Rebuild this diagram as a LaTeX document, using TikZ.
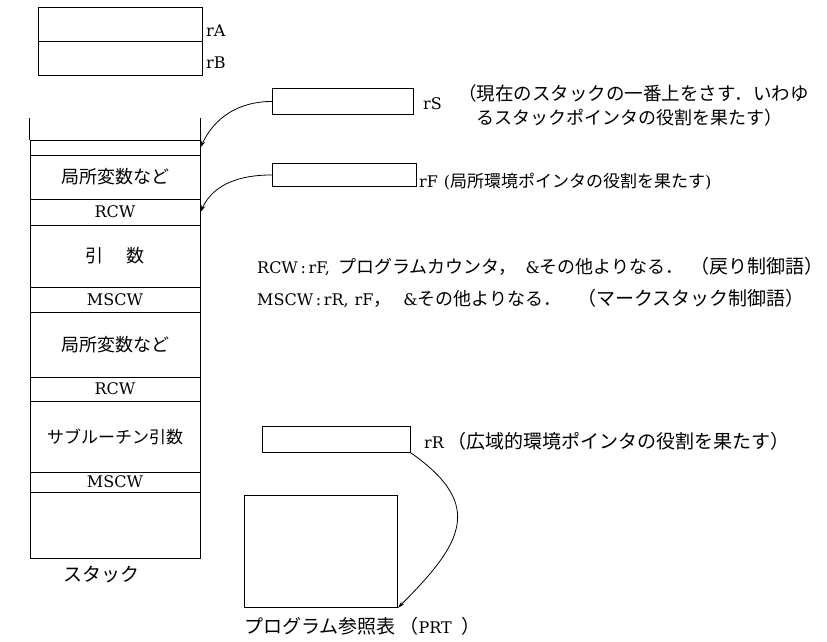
\documentclass[tikz,border=0pt]{standalone}
\usepackage{fontspec}
\setmainfont{DejaVu Serif}
\newfontfamily\jp{Noto Sans CJK JP}
\usetikzlibrary{arrows.meta}
\tikzset{
  bx/.style={draw, line width=0.9pt, inner sep=0pt, anchor=north west},
  cell/.style={draw, line width=0.9pt, inner sep=0pt, minimum width=170pt, font=\fontsize{16}{18}\selectfont},
  lbl/.style={anchor=west, inner sep=0pt, font=\fontsize{16}{18}\selectfont},
  ptr/.style={line width=0.8pt, -{Stealth[length=7pt,width=4pt]}}
}
\newcommand{\jb}{\fontsize{18}{20}\selectfont\jp}
\newcommand{\jm}{\fontsize{18}{20}\selectfont\jp}
\newcommand{\jl}{\fontsize{19}{21}\selectfont\jp}
\begin{document}
\begin{tikzpicture}[x=1pt,y=1pt]
\useasboundingbox (0,0) rectangle (827,-642);
% rA / rB registers
\node[bx, minimum width=164pt, minimum height=34pt] (ra) at (38,-7) {};
\node[bx, minimum width=164pt, minimum height=34pt] (rb) at (38,-41) {};
\node[lbl] (lra) at (206,-31) {rA};
\node[lbl] (lrb) at (206,-63) {rB};
% stack
\node[cell, minimum height=15pt] (c1) at (115,-147.5) {};
\node[cell, minimum height=44pt] (c2) at (115,-177) {\jb 局所変数など\hspace{8pt}};
\node[cell, minimum height=26pt] (c3) at (115,-212) {RCW\hspace{6pt}};
\node[cell, minimum height=62pt] (c4) at (115,-256) {\jb 引\hspace{1.3em}数\hspace{14pt}};
\node[cell, minimum height=25pt] (c5) at (115,-299.5) {MSCW\hspace{6pt}};
\node[cell, minimum height=65pt] (c6) at (115,-344.5) {\jb 局所変数など\hspace{16pt}};
\node[cell, minimum height=24pt] (c7) at (115,-389) {RCW\hspace{6pt}};
\node[cell, minimum height=71pt] (c8) at (115,-436.5) {\fontsize{17}{19}\selectfont\jp サブルーチン引数\hspace{22pt}};
\node[cell, minimum height=20pt] (c9) at (115,-482) {MSCW\hspace{6pt}};
\node[cell, minimum height=66pt] (c10) at (115,-525) {};
\draw[line width=0.9pt] (c1.north west) -- ++(0,22);
\draw[line width=0.9pt] (c1.north east) -- ++(0,22);
\node[lbl, anchor=center] (lst) at (101,-574) {\jl スタック};
% rS
\node[bx, minimum width=141pt, minimum height=26pt] (rs) at (272,-88) {};
\node[lbl] (lrs) at (423,-104) {rS};
\node[lbl] (nrs1) at (458,-93) {\fontsize{18.5}{20}\selectfont\jp （現在のスタックの一番上をさす．いわゆ};
\node[lbl] (nrs2) at (476,-118) {\fontsize{18}{20}\selectfont\jp るスタックポインタの役割を果たす）};
% rF
\node[bx, minimum width=144pt, minimum height=23pt] (rf) at (272,-163) {};
\node[lbl] (lrf) at (419,-182) {rF\hspace{6pt}({\fontsize{17}{20}\selectfont\jp 局所環境ポインタの役割を果たす})};
% descriptions
\node[lbl] (d1) at (257,-266) {RCW\,:\,rF,\hspace{8pt}{\jm プログラムカウンタ，}\hspace{9pt}\&{\jm その他よりなる．\hspace{7pt}{\jl （戻り制御語）}}};
\node[lbl] (d2) at (257,-298) {MSCW\,:\,rR,\hspace{6pt}rF{\jm ，}\hspace{12pt}\&{\jm その他よりなる．\hspace{16pt}{\jl （マークスタック制御語）}}};
% rR
\node[bx, minimum width=148pt, minimum height=26pt] (rr) at (262,-426) {};
\node[lbl] (lrr) at (424,-441) {rR\hspace{4pt}{\jl （広域的環境ポインタの役割を果たす）}};
% PRT
\node[bx, minimum width=153pt, minimum height=112pt] (prt) at (244,-495) {};
\node[lbl] (lprt) at (244,-626) {{\jl プログラム参照表}\hspace{4pt}{\jl （}PRT\hspace{10pt}{\jl ）}};
% pointers
\draw[ptr] (rs.west) to[out=180, in=65] (c1.east);
\draw[ptr] (rf.west) to[out=180, in=65] (c3.east);
\draw[ptr] (rr.south east) to[out=-35, in=45, looseness=1.5] (prt.south east);
\end{tikzpicture}
\end{document}
